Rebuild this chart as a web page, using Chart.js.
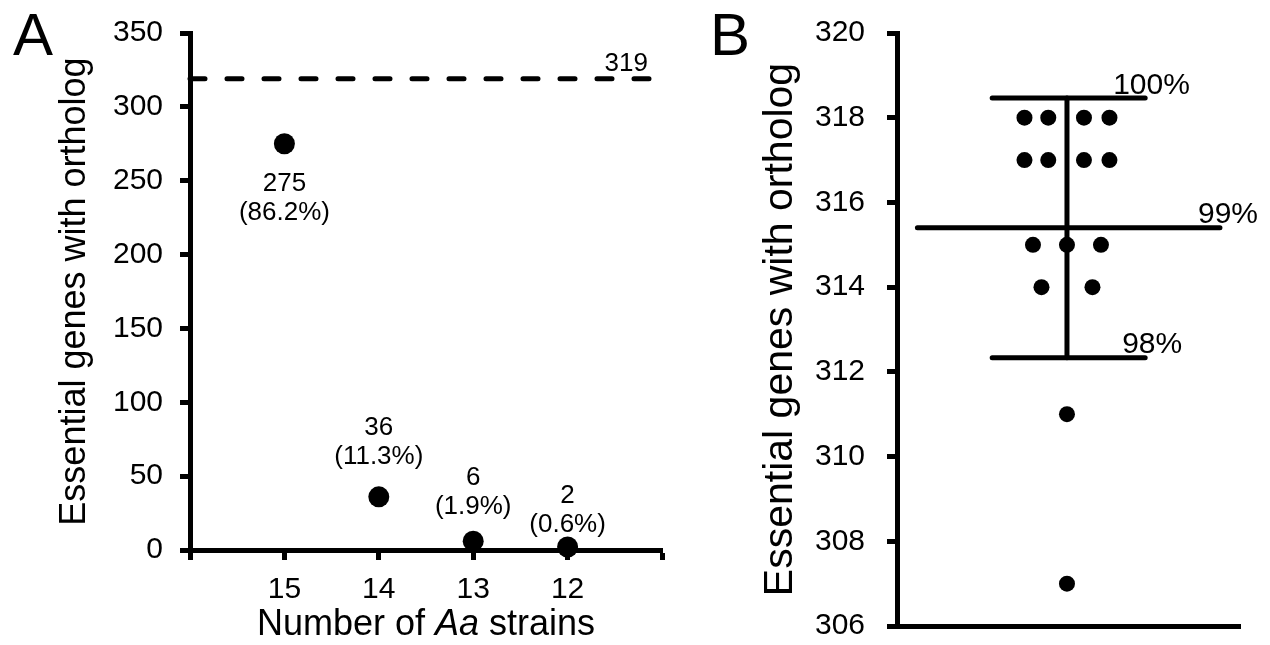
<!DOCTYPE html>
<html>
<head>
<meta charset="utf-8">
<script src="https://cdn.jsdelivr.net/npm/chart.js@4.4.1/dist/chart.umd.min.js"></script>
<style>
  html, body { margin: 0; padding: 0; background: #fff; }
  #wrap { position: relative; width: 1270px; height: 645px; }
  canvas { position: absolute; top: 0; }
  #chartA { left: 0; }
  #chartB { left: 700px; }
</style>
</head>
<body>
<div id="wrap">
  <canvas id="chartA" width="700" height="645"></canvas>
  <canvas id="chartB" width="570" height="645"></canvas>
</div>
<script>
const totalGenes = 319;

// panel A: essential genes with an ortholog in N of the Aa strains
const strainCounts = [15, 14, 13, 12];
const geneCounts = [275, 36, 6, 2];
const yTicksA = [0, 50, 100, 150, 200, 250, 300, 350];

// panel B: essential genes with an ortholog, one dot per strain
const strainGenes = [318, 318, 318, 318, 317, 317, 317, 317, 315, 315, 315, 314, 314, 311, 307];
const strainJitter = [-1.25, -0.55, 0.5, 1.25, -1.25, -0.55, 0.5, 1.25, -1, 0, 1, -0.75, 0.75, 0, 0];
const yTicksB = [306, 308, 310, 312, 314, 316, 318, 320];

const FONT = "Arial, 'Liberation Sans', sans-serif";
Chart.defaults.font.family = FONT;
Chart.defaults.color = '#000';

const pct = v => (v / totalGenes * 100).toFixed(1) + '%';

const axisGrid = {
  display: true, drawOnChartArea: false, drawTicks: true,
  tickLength: 10, tickWidth: 5, tickColor: '#000', color: '#000'
};
const axisBorder = { display: true, color: '#000', width: 5 };

// fixed axis width, and no extra room reserved for the end labels
const fixWidth = w => s => { s.width = w; s.paddingTop = 0; s.paddingBottom = 0; };

// ---------- A ----------
const labelLift = [40, -69, -63, -51];   // first text line relative to its dot

const annotateA = {
  id: 'annotateA',
  afterDatasetsDraw(chart) {
    const { ctx, scales: { x, y } } = chart;
    ctx.save();
    ctx.fillStyle = '#000';
    ctx.font = '26px ' + FONT;
    ctx.textAlign = 'center';
    ctx.textBaseline = 'middle';
    strainCounts.forEach((s, i) => {
      const px = x.getPixelForValue(s);
      const py = y.getPixelForValue(geneCounts[i]) + labelLift[i];
      ctx.fillText(String(geneCounts[i]), px, py);
      ctx.fillText('(' + pct(geneCounts[i]) + ')', px, py + 29);
    });
    ctx.textAlign = 'right';
    ctx.fillText(String(totalGenes), x.getPixelForValue(11.15), y.getPixelForValue(totalGenes) - 15);

    ctx.textAlign = 'left';
    ctx.textBaseline = 'alphabetic';
    ctx.font = '60px ' + FONT;
    ctx.fillText('A', 13, 55);

    // axis title, species abbreviation in italics
    const parts = [['Number of ', ''], ['Aa', 'italic '], [' strains', '']];
    const widths = parts.map(([t, st]) => { ctx.font = st + '36px ' + FONT; return ctx.measureText(t).width; });
    let tx = (x.left + x.right) / 2 - widths.reduce((a, b) => a + b, 0) / 2;
    parts.forEach(([t, st], i) => {
      ctx.font = st + '36px ' + FONT;
      ctx.fillText(t, tx, 635);
      tx += widths[i];
    });
    ctx.restore();
  }
};

new Chart(document.getElementById('chartA'), {
  type: 'scatter',
  data: {
    datasets: [
      {
        data: strainCounts.map((s, i) => ({ x: s, y: geneCounts[i] })),
        pointRadius: 10.5, backgroundColor: '#000', borderWidth: 0, clip: false
      },
      {
        type: 'line',
        data: [{ x: 16, y: totalGenes }, { x: 11.13, y: totalGenes }],
        borderColor: '#000', borderWidth: 5, borderDash: [15, 22], borderCapStyle: 'round',
        pointRadius: 0, clip: false
      }
    ]
  },
  options: {
    responsive: false, animation: false, events: [],
    layout: { padding: { top: 33, right: 38, left: 0, bottom: 0 } },
    plugins: { legend: { display: false }, tooltip: { enabled: false } },
    scales: {
      x: {
        type: 'linear', reverse: true, min: 11, max: 16,
        afterFit(s) { s.height = 95; s.paddingLeft = 0; s.paddingRight = 0; },
        ticks: { stepSize: 1, font: { size: 30 }, padding: 12,
                 callback: v => strainCounts.includes(v) ? String(v) : '' },
        grid: axisGrid, border: axisBorder
      },
      y: {
        min: 0, max: 350,
        afterFit: fixWidth(190),
        afterBuildTicks(s) { s.ticks = yTicksA.map(v => ({ value: v })); },
        ticks: { font: { size: 30 }, padding: 17 },
        grid: axisGrid, border: axisBorder,
        title: { display: true, text: 'Essential genes with ortholog', font: { size: 36 },
                 padding: { top: 53, bottom: 0 } }
      }
    }
  },
  plugins: [annotateA]
});

// ---------- B ----------
const meanB = strainGenes.reduce((a, b) => a + b, 0) / strainGenes.length;
const sdB = Math.sqrt(strainGenes.reduce((a, v) => a + (v - meanB) ** 2, 0) / (strainGenes.length - 1));
const hi = meanB + sdB, lo = meanB - sdB;
const pctRound = v => Math.round(v / totalGenes * 100) + '%';

const seg = (pts) => ({
  type: 'line', data: pts, borderColor: '#000', borderWidth: 5,
  borderCapStyle: 'round', pointRadius: 0, clip: false
});

const annotateB = {
  id: 'annotateB',
  afterDatasetsDraw(chart) {
    const { ctx, scales: { x, y } } = chart;
    ctx.save();
    ctx.fillStyle = '#000';
    ctx.textAlign = 'left';
    ctx.textBaseline = 'alphabetic';
    ctx.font = '30px ' + FONT;
    ctx.fillText(pctRound(hi), x.getPixelForValue(2.3) - 32, y.getPixelForValue(hi) - 4);
    ctx.fillText(pctRound(meanB), x.getPixelForValue(4.5) - 22, y.getPixelForValue(meanB) - 5);
    ctx.fillText(pctRound(lo), x.getPixelForValue(2.3) - 23, y.getPixelForValue(lo) - 5);
    ctx.font = '60px ' + FONT;
    ctx.fillText('B', 10, 55);
    ctx.restore();
  }
};

new Chart(document.getElementById('chartB'), {
  type: 'scatter',
  data: {
    datasets: [
      {
        data: strainGenes.map((v, i) => ({ x: strainJitter[i], y: v })),
        pointRadius: 8, backgroundColor: '#000', borderWidth: 0, clip: false
      },
      seg([{ x: -4.4, y: meanB }, { x: 4.5, y: meanB }]),
      seg([{ x: -2.2, y: hi }, { x: 2.3, y: hi }]),
      seg([{ x: -2.2, y: lo }, { x: 2.3, y: lo }]),
      seg([{ x: 0, y: hi }, { x: 0, y: lo }])
    ]
  },
  options: {
    responsive: false, animation: false, events: [],
    layout: { padding: { top: 33, right: 30, left: 0, bottom: 0 } },
    plugins: { legend: { display: false }, tooltip: { enabled: false } },
    scales: {
      x: {
        type: 'linear', min: -5, max: 5.09,
        afterFit(s) { s.height = 19; s.paddingLeft = 0; s.paddingRight = 0; },
        ticks: { display: false },
        grid: { display: false }, border: axisBorder
      },
      y: {
        min: 306, max: 320,
        afterFit: fixWidth(197),
        afterBuildTicks(s) { s.ticks = yTicksB.map(v => ({ value: v })); },
        ticks: { font: { size: 30 }, padding: 22 },
        grid: axisGrid, border: axisBorder,
        title: { display: true, text: 'Essential genes with ortholog', font: { size: 41 },
                 padding: { top: 56, bottom: 0 } }
      }
    }
  },
  plugins: [annotateB]
});
</script>
</body>
</html>
